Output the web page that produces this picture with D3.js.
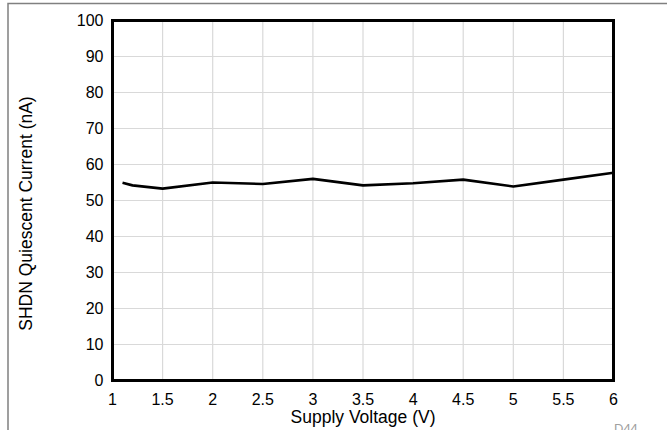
<!DOCTYPE html>
<html>
<head>
<meta charset="utf-8">
<script src="https://cdn.jsdelivr.net/npm/d3@7"></script>
<style>
  body { margin: 0; background: #fff; }
  svg { display: block; font-family: "Liberation Sans", Arial, sans-serif; }
</style>
</head>
<body>
<div id="chart"></div>
<script>
// Supply voltage (V) and SHDN quiescent current (nA)
const voltage = [1.1, 1.2, 1.5, 2, 2.5, 3, 3.5, 4, 4.5, 5, 5.5, 6];
const current = [54.9, 54.2, 53.3, 55.0, 54.6, 56.0, 54.2, 54.8, 55.8, 53.9, 55.8, 57.7];

const xTicks = [1, 1.5, 2, 2.5, 3, 3.5, 4, 4.5, 5, 5.5, 6];
const yTicks = [0, 10, 20, 30, 40, 50, 60, 70, 80, 90, 100];

const width = 667, height = 430;
const margin = { left: 112.5, right: 53.5, top: 20.5, bottom: 49.5 };

const svg = d3.select("#chart").append("svg")
  .attr("width", width)
  .attr("height", height);

const x = d3.scaleLinear().domain([1, 6]).range([margin.left, width - margin.right]);
const y = d3.scaleLinear().domain([0, 100]).range([height - margin.bottom, margin.top]);

// outer frame (only top and left edges are visible in the picture)
svg.append("path")
  .attr("d", `M8,${height} V3.5 H${width}`)
  .attr("fill", "none")
  .attr("stroke", "#808080")
  .attr("stroke-width", 1.5);

// grid
svg.append("g")
  .selectAll("line")
  .data(xTicks.slice(1, -1))
  .join("line")
  .attr("x1", d => x(d)).attr("x2", d => x(d))
  .attr("y1", y(0)).attr("y2", y(100))
  .attr("stroke", "#d9d9d9")
  .attr("stroke-width", 1.2);

svg.append("g")
  .selectAll("line")
  .data(yTicks.slice(1, -1))
  .join("line")
  .attr("x1", x(1)).attr("x2", x(6))
  .attr("y1", d => y(d)).attr("y2", d => y(d))
  .attr("stroke", "#d9d9d9")
  .attr("stroke-width", 1.2);

// data line
const line = d3.line()
  .x((d, i) => x(voltage[i]))
  .y(d => y(d));

svg.append("path")
  .datum(current)
  .attr("d", line)
  .attr("fill", "none")
  .attr("stroke", "#000")
  .attr("stroke-width", 2.6)
  .attr("stroke-linejoin", "round");

// plot border
svg.append("rect")
  .attr("x", x(1)).attr("y", y(100))
  .attr("width", x(6) - x(1))
  .attr("height", y(0) - y(100))
  .attr("fill", "none")
  .attr("stroke", "#000")
  .attr("stroke-width", 3);

// tick labels
svg.append("g")
  .selectAll("text")
  .data(yTicks)
  .join("text")
  .attr("x", x(1) - 9)
  .attr("y", d => y(d))
  .attr("dy", "0.35em")
  .attr("text-anchor", "end")
  .attr("font-size", 16)
  .text(d => d);

svg.append("g")
  .selectAll("text")
  .data(xTicks)
  .join("text")
  .attr("x", d => x(d))
  .attr("y", y(0) + 24)
  .attr("text-anchor", "middle")
  .attr("font-size", 16)
  .text(d => d);

// axis titles
svg.append("text")
  .attr("x", (x(1) + x(6)) / 2)
  .attr("y", y(0) + 42)
  .attr("text-anchor", "middle")
  .attr("font-size", 17.5)
  .text("Supply Voltage (V)");

svg.append("text")
  .attr("transform", `translate(31.5,${(y(0) + y(100)) / 2 + 13}) rotate(-90)`)
  .attr("text-anchor", "middle")
  .attr("font-size", 17.5)
  .text("SHDN Quiescent Current (nA)");

// figure id, partly cut by the bottom edge as in the source
svg.append("text")
  .attr("x", 614)
  .attr("y", 433)
  .attr("font-size", 13)
  .attr("fill", "#a0a0a0")
  .text("D44");
</script>
</body>
</html>
